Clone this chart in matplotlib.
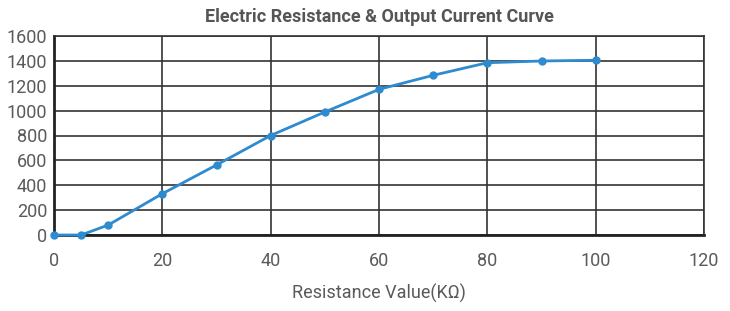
import matplotlib
matplotlib.use("Agg")
import matplotlib.pyplot as plt

resistance = [0, 5, 10, 20, 30, 40, 50, 60, 70, 80, 90, 100]
current = [0, 0, 80, 332, 563, 800, 989, 1171, 1284, 1385, 1399, 1405]

plt.rcParams['font.family'] = ['Roboto', 'DejaVu Sans']
plt.rcParams['font.stretch'] = 'condensed'

fig = plt.figure(figsize=(7.3, 3.11), dpi=100)
ax = fig.add_axes([54 / 730, 1 - 235 / 311, 650 / 730, 199 / 311])

ax.plot(resistance, current, color='#2e8bcf', linewidth=2, marker='o', markersize=5, zorder=3, clip_on=False)

ax.set_xlim(0, 120)
ax.set_ylim(0, 1600)
ax.set_xticks(range(0, 121, 20))
ax.set_yticks(range(0, 1601, 200))
ax.grid(True, color='#333333', linewidth=1.2)
ax.tick_params(length=0, labelsize=13, colors='#5a5a5a', pad=5)
ax.tick_params(axis='x', pad=12)

for side in ['top', 'right']:
    ax.spines[side].set_color('#333333')
    ax.spines[side].set_linewidth(1.2)
for side in ['left', 'bottom']:
    ax.spines[side].set_color('#222222')
    ax.spines[side].set_linewidth(2)

ax.set_xlabel('Resistance Value(KΩ)', fontsize=13, color='#5a5a5a', labelpad=10)
ax.set_title('Electric Resistance & Output Current Curve', fontsize=13, fontweight='bold',
             color='#555555', pad=10)

fig.savefig('out.png', dpi=100)
